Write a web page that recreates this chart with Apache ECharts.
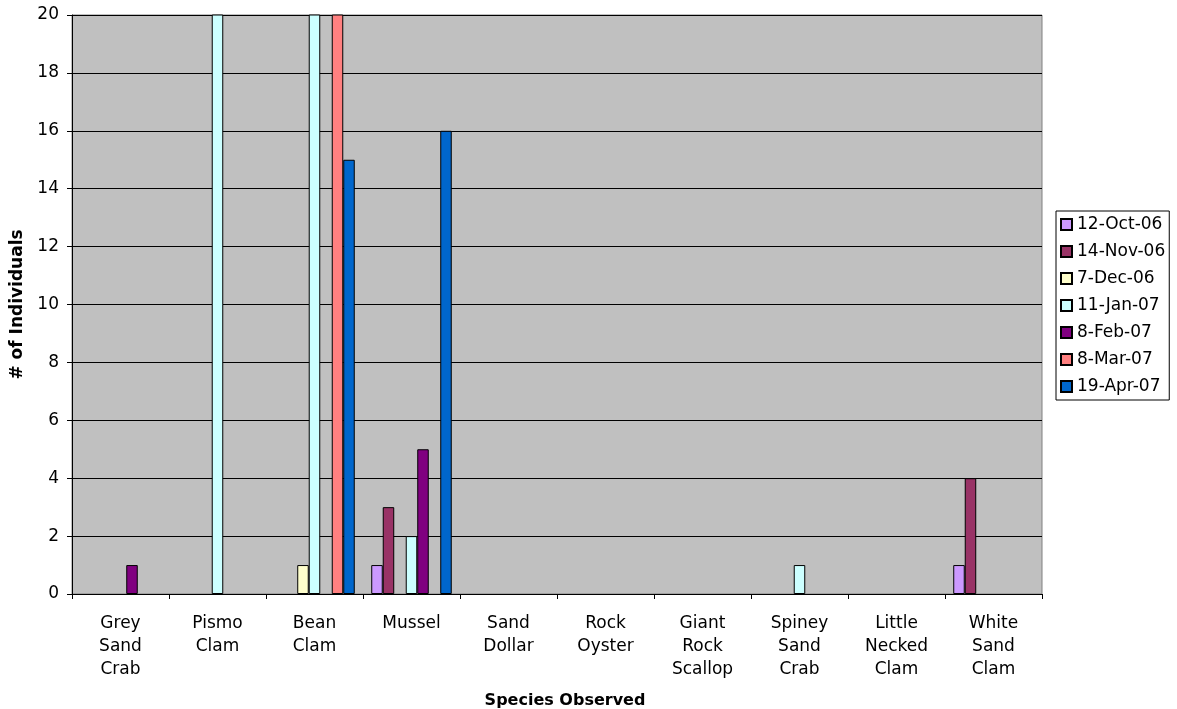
<!DOCTYPE html>
<html>
<head>
<meta charset="utf-8">
<script src="https://cdn.jsdelivr.net/npm/echarts@6/dist/echarts.min.js"></script>
<style>
  html, body { margin: 0; padding: 0; background: #fff; }
  #chart { width: 1177px; height: 709px; }
</style>
</head>
<body>
<div id="chart"></div>
<script>
// categories (species)
var species = ["Grey\nSand\nCrab", "Pismo\nClam", "Bean\nClam", "Mussel", "Sand\nDollar",
  "Rock\nOyster", "Giant\nRock\nScallop", "Spiney\nSand\nCrab", "Little\nNecked\nClam", "White\nSand\nClam"];
var dates = ["12-Oct-06", "14-Nov-06", "7-Dec-06", "11-Jan-07", "8-Feb-07", "8-Mar-07", "19-Apr-07"];
var colors = ["#CC99FF", "#993366", "#FFFFCC", "#CCFFFF", "#800080", "#FF8080", "#0066CC"];
var yTicks = [0, 2, 4, 6, 8, 10, 12, 14, 16, 18, 20];

// counts per survey date (null = not observed); bars above 20 run off the top
var oct06 = [null, null, null, 1, null, null, null, null, null, 1];
var nov06 = [null, null, null, 3, null, null, null, null, null, 4];
var dec06 = [null, null, 1, null, null, null, null, null, null, null];
var jan07 = [null, 30, 30, 2, null, null, null, 1, null, null];
var feb07 = [1, null, null, 5, null, null, null, null, null, null];
var mar07 = [null, null, 30, null, null, null, null, null, null, null];
var apr07 = [null, null, 15, 16, null, null, null, null, null, null];
var seriesData = [oct06, nov06, dec06, jan07, feb07, mar07, apr07];

var chart = echarts.init(document.getElementById('chart'));
var font = 'Verdana, "DejaVu Sans", sans-serif';

chart.setOption({
  animation: false,
  textStyle: { fontFamily: font },
  grid: {
    left: 72, right: 135, top: 15, bottom: 115,
    outerBoundsMode: 'none',
    show: true, backgroundColor: '#C0C0C0', borderColor: '#808080', borderWidth: 1
  },
  legend: {
    orient: 'vertical',
    left: 1056, top: 211,
    padding: [5, 4, 5, 4],
    itemGap: 10,
    itemWidth: 11, itemHeight: 11,
    borderColor: '#000', borderWidth: 1, backgroundColor: '#fff',
    textStyle: { fontSize: 17, lineHeight: 17, color: '#000', fontFamily: font },
    data: dates.map(function (d) { return { name: d, icon: 'rect' }; })
  },
  xAxis: {
    type: 'category',
    data: species,
    name: 'Species Observed',
    nameLocation: 'middle',
    nameGap: 99,
    nameTextStyle: { fontSize: 16, fontWeight: 'bold', color: '#000', fontFamily: font, padding: [0, 0, 0, 16] },
    axisLine: { lineStyle: { color: '#000', width: 1 } },
    axisTick: { show: true, length: 5, lineStyle: { color: '#000' } },
    axisLabel: { color: '#000', fontSize: 17, lineHeight: 23, margin: 18, interval: 0, fontFamily: font }
  },
  yAxis: {
    type: 'value',
    min: 0, max: 20, interval: 2,
    name: '# of Individuals',
    nameLocation: 'middle',
    nameGap: 41,
    nameTextStyle: { fontSize: 17, fontWeight: 'bold', color: '#000', fontFamily: font },
    axisLine: { show: true, lineStyle: { color: '#000', width: 1 } },
    axisTick: { show: true, length: 5, lineStyle: { color: '#000' } },
    axisLabel: { color: '#000', fontSize: 17, margin: 13, fontFamily: font,
      formatter: function (v) { return yTicks.indexOf(v) >= 0 ? String(v) : ''; } },
    splitLine: { show: true, lineStyle: { color: '#000', width: 1 } }
  },
  series: seriesData.map(function (arr, i) {
    return {
      name: dates[i],
      type: 'bar',
      data: arr,
      barGap: '0%',
      barCategoryGap: '17%',
      itemStyle: { color: colors[i], borderColor: '#000', borderWidth: 1 }
    };
  })
});
</script>
</body>
</html>
